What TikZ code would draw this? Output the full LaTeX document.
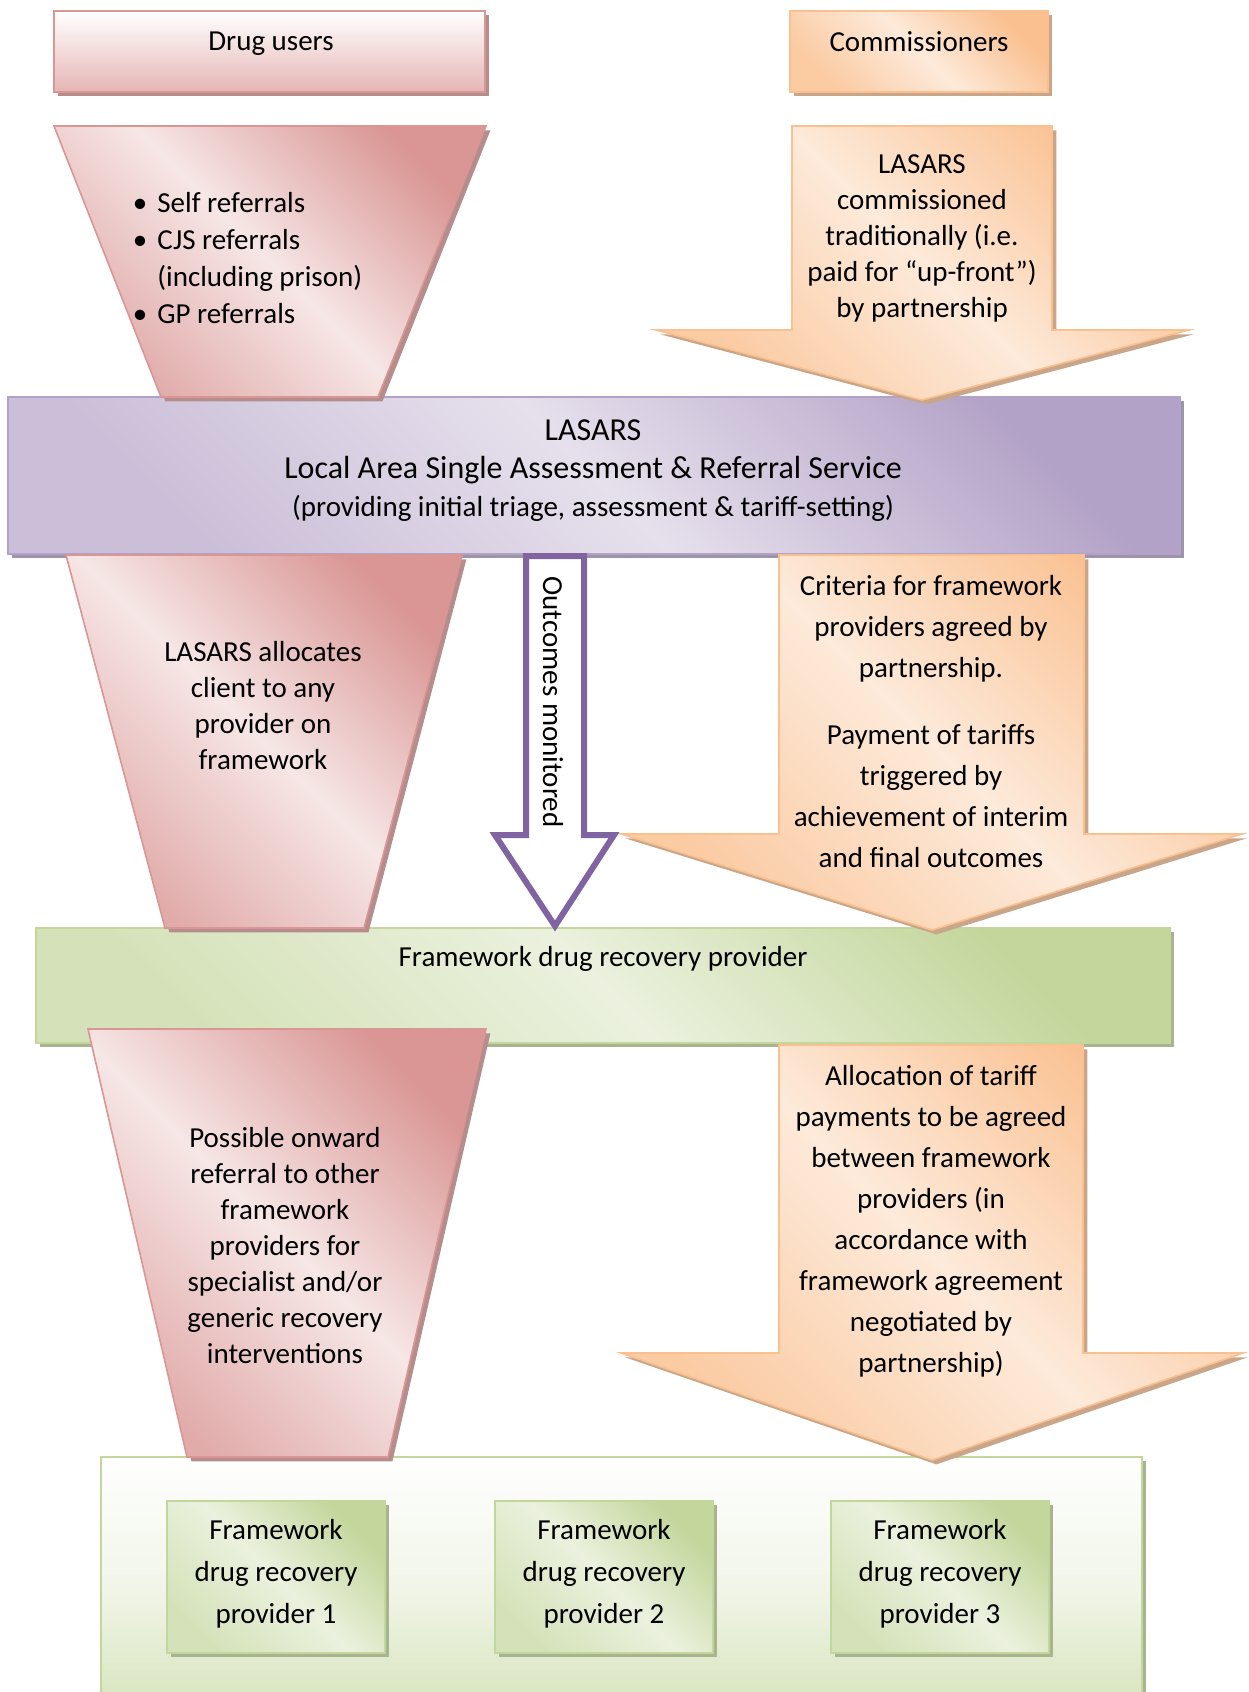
\documentclass[tikz,border=0pt]{standalone}
\usepackage{fontspec}
\setmainfont{Carlito}
\usetikzlibrary{shadows}

\definecolor{pinklight}{HTML}{F2DCDB}
\definecolor{pinkdark}{HTML}{D99694}
\definecolor{orangelight}{HTML}{FDEADA}
\definecolor{orangedark}{HTML}{FAC090}
\definecolor{purplelight}{HTML}{E6E0EC}
\definecolor{purpledark}{HTML}{B3A2C7}
\definecolor{purpleline}{HTML}{8064A2}
\definecolor{greenlight}{HTML}{EBF1DE}
\definecolor{greendark}{HTML}{C3D69B}

\begin{document}
\begin{tikzpicture}[x=0.5pt,y=-0.5pt,
    shadowed/.style={drop shadow={shadow xshift=2.2pt,shadow yshift=-2.2pt,opacity=1,fill=#1}},
    pinkshape/.style={draw=pinkdark, line width=0.8pt, top color=pinkdark, bottom color=pinkdark!70!pinklight,
        middle color=pinklight!70!white, shading angle=-45, shadowed=pinkdark!60!gray},
    orangeshape/.style={draw=orangedark, line width=0.8pt, top color=orangedark, bottom color=orangedark!75!orangelight,
        middle color=orangelight, shading angle=-45, shadowed=orangedark!60!gray},
    purpleshape/.style={draw=purpledark, line width=0.8pt, top color=purpledark, bottom color=purpledark!55!purplelight,
        middle color=purplelight, shading angle=-45, shadowed=purpledark!60!gray},
    greenshape/.style={draw=greendark, line width=0.8pt, top color=greendark, bottom color=greendark!55!greenlight,
        middle color=greenlight, shading angle=-45, shadowed=greendark!60!gray},
    txt/.style={align=center, inner sep=0pt, font=\fontsize{14.5}{18}\selectfont},
    widetxt/.style={txt, font=\fontsize{14.5}{20.5}\selectfont}]
    \useasboundingbox (0,0) rectangle (1248,1692);

    % Boxes
    \path[draw=pinkdark, line width=0.8pt, top color=white, bottom color=pinkdark!70!white,
        shadowed=pinkdark!60!gray] (54,11) rectangle (485,92);
    \path[orangeshape] (790,11) rectangle (1048,92);
    \path[purpleshape] (8,397) rectangle (1180,554);
    \path[greenshape] (36,928) rectangle (1170,1043);
    \path[draw=greendark, line width=0.8pt, top color=white, bottom color=greendark!70!white,
        middle color=greenlight!70!white, shadowed=greendark!60!gray] (101,1457) rectangle (1142,1720);

    % Funnels
    \path[pinkshape] (54,126) -- (486,126) -- (378,397) -- (161,397) -- cycle;
    \path[pinkshape] (66,555) -- (462,555) -- (364,928) -- (165,928) -- cycle;
    \path[pinkshape] (88,1029) -- (486,1029) -- (388,1457) -- (187,1457) -- cycle;

    % Block arrows
    \path[orangeshape] (792,126) -- (1052,126) -- (1052,330) -- (1189,330) -- (922,400)
        -- (656,330) -- (792,330) -- cycle;
    \path[orangeshape] (779,555) -- (1084,555) -- (1084,834) -- (1242,834) -- (932,930)
        -- (621,834) -- (779,834) -- cycle;
    \path[orangeshape] (779,1045) -- (1083,1045) -- (1083,1353) -- (1243,1353) -- (932,1460)
        -- (621,1353) -- (779,1353) -- cycle;
    \draw[purpleline, line width=3pt, fill=white] (526,556) -- (584,556) -- (584,835) -- (614,835)
        -- (555,926) -- (495,835) -- (526,835) -- cycle;

    % Providers
    \foreach \cx/\n in {276/1,604/2,940/3}{
        \path[greenshape] (\cx-109,1501) rectangle (\cx+109,1653);
        \node[txt, font=\fontsize{14.5}{21}\selectfont] (fw\n) at (\cx,1574) {Framework\\ drug recovery\\ provider \n};
    }

    % Texts
    \node[txt] (users) at (271,44) {Drug users};
    \node[txt] (comm) at (919,42) {Commissioners};
    \node[txt, align=left, anchor=west, font=\fontsize{14.5}{18.5}\selectfont] (referrals) at (157,258)
        {\llap{\textbullet\hspace{5pt}}Self referrals\\ \llap{\textbullet\hspace{5pt}}CJS referrals\\
         (including prison)\\ \llap{\textbullet\hspace{5pt}}GP referrals};
    \node[txt] (upfront) at (922,238) {LASARS\\ commissioned\\ traditionally (i.e.\\ paid for “up-front”)\\ by partnership};
    \node[txt, font=\fontsize{16}{19}\selectfont] (lasars) at (593,471)
        {LASARS\\ Local Area Single Assessment \& Referral Service\\
         {\fontsize{14.5}{19}\selectfont (providing initial triage, assessment \& tariff-setting)}};
    \node[txt] (allocates) at (263,706) {LASARS allocates\\ client to any\\ provider on\\ framework};
    \node[txt, rotate=-90] (monitored) at (553,702) {Outcomes monitored};
    \node[widetxt] (criteria) at (931,722) {Criteria for framework\\ providers agreed by\\ partnership.\\[13pt]
        Payment of tariffs\\ triggered by\\ achievement of interim\\ and final outcomes};
    \node[txt] (provider) at (603,959) {Framework drug recovery provider};
    \node[txt] (onward) at (285,1246) {Possible onward\\ referral to other\\ framework\\ providers for\\
        specialist and/or\\ generic recovery\\ interventions};
    \node[widetxt] (tariff) at (931,1221) {Allocation of tariff\\ payments to be agreed\\ between framework\\
        providers (in\\ accordance with\\ framework agreement\\ negotiated by\\ partnership)};
\end{tikzpicture}
\end{document}
